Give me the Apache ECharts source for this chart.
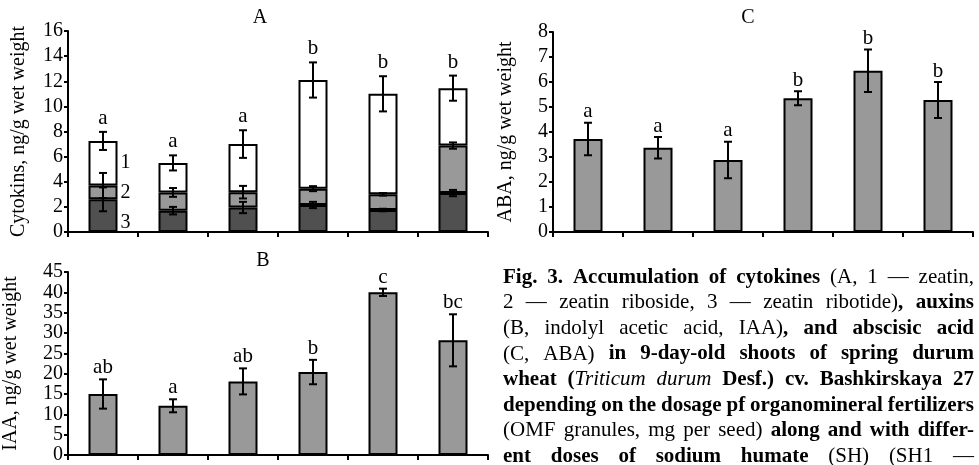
<!DOCTYPE html>
<html>
<head>
<meta charset="utf-8">
<script src="https://cdn.jsdelivr.net/npm/echarts@6/dist/echarts.min.js"></script>
<style>
  html, body { margin: 0; padding: 0; background: #fff; }
  #main { width: 979px; height: 465px; }
</style>
</head>
<body>
<div id="main"></div>
<script>
// treatments (x axis has no labels in the figure)
var categories = ['1', '2', '3', '4', '5', '6'];

// A: cytokinins, stacked (3 = ribotide bottom, 2 = riboside, 1 = zeatin top)
var ribotide = [2.6, 1.7, 1.95, 2.15, 1.75, 3.1];
var riboside = [1.1, 1.45, 1.22, 1.3, 1.25, 3.78];
var zeatin = [3.55, 2.35, 3.83, 8.65, 8.0, 4.57];
var errRibotide = [0.95, 0.3, 0.45, 0.25, 0.1, 0.25];
var errRiboside = [1.0, 0.35, 0.5, 0.2, 0.1, 0.25];
var errZeatin = [0.72, 0.6, 1.1, 1.4, 1.4, 1.0];
var ckLetters = ['a', 'a', 'a', 'b', 'b', 'b'];
var stackMarks = ['1', '2', '3'];

// B: IAA
var iaa = [15.0, 12.1, 18.1, 20.4, 40.0, 28.2];
var iaaErr = [3.6, 1.6, 3.2, 3.0, 0.9, 6.4];
var iaaLetters = ['ab', 'a', 'ab', 'b', 'c', 'bc'];

// C: ABA
var aba = [3.72, 3.37, 2.88, 5.35, 6.45, 5.28];
var abaErr = [0.65, 0.43, 0.73, 0.28, 0.85, 0.72];
var abaLetters = ['a', 'a', 'a', 'b', 'b', 'b'];

// caption lines (** bold, _ italic)
var caption = [
    '**Fig. 3. Accumulation of cytokines** (A, 1 — zeatin,',
    '2 — zeatin riboside, 3 — zeatin ribotide)**, auxins**',
    '(B, indolyl acetic acid, IAA)**, and abscisic acid**',
    '(C, ABA) **in 9-day-old shoots of spring durum**',
    '**wheat (**_Triticum durum_** Desf.) cv. Bashkirskaya 27**',
    '**depending on the dosage pf organomineral fertilizers**',
    '(OMF granules, mg per seed) **along and with differ-**',
    '**ent doses of sodium humate** (SH) (SH1 —'
];

var FONT = 'Liberation Serif';
var GRAY = '#999999', DARK = '#505050';

function sum(a, b) { return a.map(function (v, i) { return v + b[i]; }); }
var ckMid = sum(ribotide, riboside);
var ckTop = sum(ckMid, zeatin);

function errData(vals, errs) {
    return vals.map(function (v, i) { return [i, v - errs[i], v + errs[i]]; });
}

function errSeries(xi, vals, errs, letters, gap) {
    return {
        type: 'custom',
        xAxisIndex: xi,
        yAxisIndex: xi,
        z: 5,
        silent: true,
        data: errData(vals, errs),
        renderItem: function (params, api) {
            var x = api.value(0);
            var hi = api.coord([x, api.value(2)]);
            var lo = api.coord([x, api.value(1)]);
            var w = 4;
            var st = { stroke: '#000', lineWidth: 2 };
            var kids = [
                { type: 'line', shape: { x1: hi[0], y1: hi[1], x2: lo[0], y2: lo[1] }, style: st },
                { type: 'line', shape: { x1: hi[0] - w, y1: hi[1], x2: hi[0] + w, y2: hi[1] }, style: st },
                { type: 'line', shape: { x1: lo[0] - w, y1: lo[1], x2: lo[0] + w, y2: lo[1] }, style: st }
            ];
            if (letters) {
                kids.push({
                    type: 'text',
                    x: hi[0], y: hi[1] - gap + 4,
                    style: {
                        text: letters[params.dataIndex], fill: '#000',
                        fontFamily: FONT, fontSize: 21,
                        align: 'center', verticalAlign: 'bottom',
                        textAlign: 'center', textVerticalAlign: 'bottom'
                    }
                });
            }
            return { type: 'group', children: kids };
        }
    };
}

function xAxis(gi) {
    return {
        type: 'category', gridIndex: gi, data: categories,
        axisLine: { lineStyle: { color: '#000', width: 2 } },
        axisTick: { show: true, interval: 0, length: 5, lineStyle: { color: '#000', width: 2 } },
        axisLabel: { show: false },
        splitLine: { show: false }
    };
}

function yAxis(gi, max, step, name, gap) {
    return {
        type: 'value', gridIndex: gi, min: 0, max: max, interval: step,
        name: name, nameLocation: 'middle', nameRotate: 90, nameGap: gap,
        nameTextStyle: { fontFamily: FONT, fontSize: 20, color: '#000' },
        axisLine: { show: true, lineStyle: { color: '#000', width: 2 } },
        axisTick: { show: true, length: 4, lineStyle: { color: '#000', width: 2 } },
        axisLabel: { fontFamily: FONT, fontSize: 20, color: '#000', margin: 5 },
        splitLine: { show: false }
    };
}

function barStyle(c) {
    return { color: c, borderColor: '#000', borderWidth: 2 };
}

function markFirst(vals, mark, off) {
    return vals.map(function (v, i) {
        if (i !== 0) return v;
        return { value: v, label: { show: true, position: 'right', distance: 3, offset: [0, off],
            formatter: mark, fontFamily: FONT, fontSize: 20, color: '#000' } };
    });
}

// justified caption, one text element per run of words
function captionGraphics() {
    var ctx = document.createElement('canvas').getContext('2d');
    var fs = 21, x0 = 503, x1 = 974, base0 = 283.5, lead = 25.6;
    var out = [];
    caption.forEach(function (line, li) {
        var words = [], cur = [], buf = '', bold = false, ital = false;
        function flush() { if (buf) { cur.push({ t: buf, b: bold, i: ital }); buf = ''; } }
        for (var k = 0; k < line.length; k++) {
            var ch = line.charAt(k);
            if (line.substr(k, 2) === '**') { flush(); bold = !bold; k++; continue; }
            if (ch === '_') { flush(); ital = !ital; continue; }
            if (ch === ' ') { flush(); if (cur.length) words.push(cur); cur = []; continue; }
            buf += ch;
        }
        flush(); if (cur.length) words.push(cur);
        var total = 0;
        words.forEach(function (w) {
            w.forEach(function (p) {
                ctx.font = (p.i ? 'italic ' : '') + (p.b ? 'bold ' : '') + fs + 'px "' + FONT + '"';
                p.w = ctx.measureText(p.t).width;
                total += p.w;
            });
        });
        var gap = Math.max(2, (x1 - x0 - total) / (words.length - 1));
        var x = x0, y = base0 + lead * li - 0.3 * fs;
        words.forEach(function (w) {
            w.forEach(function (p) {
                out.push({
                    type: 'text', x: x, y: y, silent: true,
                    style: {
                        text: p.t, fill: '#000', fontFamily: FONT, fontSize: fs,
                        fontWeight: p.b ? 'bold' : 'normal', fontStyle: p.i ? 'italic' : 'normal',
                        align: 'left', verticalAlign: 'middle',
                        textAlign: 'left', textVerticalAlign: 'middle'
                    }
                });
                x += p.w;
            });
            x += gap;
        });
    });
    return out;
}

function panelTitle(t, x, y) {
    return {
        type: 'text', x: x, y: y, silent: true,
        style: { text: t, fill: '#000', fontFamily: FONT, fontSize: 20,
            align: 'center', verticalAlign: 'middle', textAlign: 'center', textVerticalAlign: 'middle' }
    };
}

var myChart = echarts.init(document.getElementById('main'), null, { renderer: 'canvas' });

var option = {
    animation: false,
    backgroundColor: '#fff',
    grid: [
        { left: 68, top: 31, width: 420, height: 201 },   // A
        { left: 68, top: 272, width: 420, height: 185 },  // B
        { left: 553, top: 32, width: 420, height: 200 }   // C
    ],
    xAxis: [xAxis(0), xAxis(1), xAxis(2)],
    yAxis: [
        yAxis(0, 16, 2, 'Cytokins, ng/g wet weight', 39),
        yAxis(1, 45, 5, 'IAA, ng/g wet weight', 47),
        yAxis(2, 8, 1, 'ABA, ng/g wet weight', 37)
    ],
    series: [
        { type: 'bar', name: 'ribotide', xAxisIndex: 0, yAxisIndex: 0, stack: 'ck', barWidth: 29,
          itemStyle: barStyle(DARK), data: markFirst(ribotide, stackMarks[2], 7) },
        { type: 'bar', name: 'riboside', xAxisIndex: 0, yAxisIndex: 0, stack: 'ck', barWidth: 29,
          itemStyle: barStyle(GRAY), data: markFirst(riboside, stackMarks[1], 0) },
        { type: 'bar', name: 'zeatin', xAxisIndex: 0, yAxisIndex: 0, stack: 'ck', barWidth: 29,
          itemStyle: barStyle('#fff'), data: markFirst(zeatin, stackMarks[0], 0) },
        errSeries(0, ribotide, errRibotide, null, 0),
        errSeries(0, ckMid, errRiboside, null, 0),
        errSeries(0, ckTop, errZeatin, ckLetters, 7),

        { type: 'bar', name: 'IAA', xAxisIndex: 1, yAxisIndex: 1, barWidth: 29,
          itemStyle: barStyle(GRAY), data: iaa },
        errSeries(1, iaa, iaaErr, iaaLetters, 5),

        { type: 'bar', name: 'ABA', xAxisIndex: 2, yAxisIndex: 2, barWidth: 29,
          itemStyle: barStyle(GRAY), data: aba },
        errSeries(2, aba, abaErr, abaLetters, 4.5)
    ],
    graphic: [
        panelTitle('A', 260, 18),
        panelTitle('B', 263, 261),
        panelTitle('C', 748, 18)
    ].concat(captionGraphics())
};
myChart.setOption(option);
</script>
</body>
</html>
